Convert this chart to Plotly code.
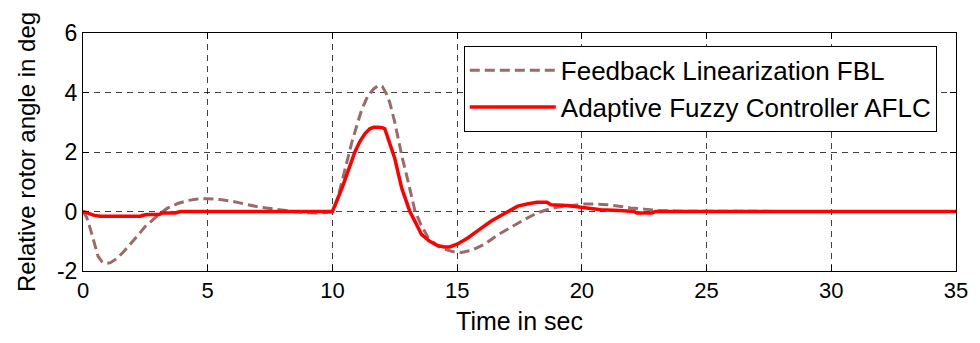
import plotly.graph_objects as go

# ---- data ----
t_fbl = [0, 0.15, 0.3, 0.45, 0.6, 0.75, 0.9, 1.1, 1.35, 1.6, 1.9, 2.2, 2.5, 2.8, 3.1, 3.4,
         3.8, 4.2, 4.6, 5.0, 5.5, 6.0, 6.5, 7.0, 7.5, 8.0, 8.5, 9.0, 9.5, 9.9, 10.0, 10.2,
         10.45, 10.78, 11.0, 11.18, 11.4, 11.65, 11.85, 12.0, 12.15, 12.3, 12.5, 12.64,
         12.8, 12.98, 13.15, 13.3, 13.55, 13.84, 14.15, 14.5, 14.85, 15.17, 15.6, 16.1,
         16.6, 17.0, 17.43, 17.7, 18.2, 18.6, 19.0, 19.5, 20.1, 20.5, 21.0, 21.5, 21.95,
         22.5, 22.9, 23.1, 24, 26, 28, 30, 32, 35]
v_fbl = [0, -0.2, -0.6, -1.1, -1.5, -1.68, -1.75, -1.72, -1.58, -1.38, -1.1, -0.8, -0.5,
         -0.27, -0.06, 0.12, 0.27, 0.37, 0.42, 0.43, 0.4, 0.34, 0.25, 0.16, 0.1, 0.04,
         -0.01, -0.04, -0.05, -0.03, 0, 0.4, 1.23, 2.33, 2.95, 3.44, 3.85, 4.12, 4.24,
         4.2, 3.98, 3.66, 3.0, 2.4, 1.8, 1.2, 0.6, 0.05, -0.45, -0.88, -1.12, -1.27,
         -1.35, -1.38, -1.3, -1.1, -0.8, -0.6, -0.4, -0.27, -0.05, 0.06, 0.14, 0.2, 0.25,
         0.25, 0.23, 0.18, 0.12, 0.08, 0.06, 0.03, 0.01, 0, 0, 0, 0, 0]

t_aflc = [0, 0.2, 0.45, 0.7, 1.5, 2.3, 2.45, 2.6, 3.05, 3.2, 3.7, 3.9, 5, 7, 9, 10.0,
          10.38, 10.9, 11.1, 11.3, 11.5, 11.65, 11.8, 12.0, 12.1, 12.3, 12.5, 12.78, 13.1,
          13.35, 13.57, 13.9, 14.24, 14.5, 14.7, 15.0, 15.44, 15.9, 16.37, 16.9, 17.43,
          17.8, 18.2, 18.6, 18.76, 19.4, 19.96, 20.4, 20.76, 21.5, 22.1, 22.2, 22.8,
          22.95, 25, 30, 35]
v_aflc = [0, -0.05, -0.13, -0.16, -0.16, -0.16, -0.12, -0.1, -0.1, -0.05, -0.05, 0, 0, 0,
          0, 0, 0.78, 2.0, 2.35, 2.61, 2.78, 2.83, 2.83, 2.82, 2.78, 2.3, 1.78, 0.78,
          0.01, -0.4, -0.77, -1.0, -1.15, -1.19, -1.19, -1.1, -0.88, -0.6, -0.32, -0.07,
          0.18, 0.25, 0.31, 0.31, 0.23, 0.2, 0.14, 0.1, 0.06, 0.03, 0.0, -0.05, -0.05,
          0, 0, 0, 0]

x_ticks = [0, 5, 10, 15, 20, 25, 30, 35]
y_ticks = [-2, 0, 2, 4, 6]

FONT = "Liberation Sans, Arial, sans-serif"

fig = go.Figure()
fig.add_trace(go.Scatter(x=t_fbl, y=v_fbl, mode="lines",
                         name="Feedback Linearization FBL",
                         line=dict(color="#9b6a6a", width=3, dash="10px,5px")))
fig.add_trace(go.Scatter(x=t_aflc, y=v_aflc, mode="lines",
                         name="Adaptive Fuzzy Controller AFLC",
                         line=dict(color="#ff0000", width=3.5)))

axis_common = dict(showline=True, linecolor="black", linewidth=1, mirror="ticks",
                   ticks="inside", ticklen=6, tickcolor="black",
                   showgrid=True, gridcolor="rgba(0,0,0,0.75)", gridwidth=1,
                   griddash="6px,5px", zeroline=False)

fig.update_xaxes(range=[0, 35], tickvals=x_ticks, ticktext=[str(v) for v in x_ticks],
                 tickfont=dict(family=FONT, size=22, color="black"),
                 title=dict(text="Time in sec", font=dict(family=FONT, size=25, color="black"),
                            standoff=10),
                 **axis_common)
fig.update_yaxes(range=[-2, 6], tickvals=y_ticks, ticktext=[str(v) for v in y_ticks],
                 tickfont=dict(family=FONT, size=23, color="black"),
                 title=dict(text="Relative rotor angle in deg",
                            font=dict(family=FONT, size=24, color="black"), standoff=14),
                 **axis_common)

fig.update_layout(
    width=980, height=343,
    margin=dict(l=83, r=19, t=33, b=69),
    paper_bgcolor="white", plot_bgcolor="white",
    font=dict(family=FONT, color="black"),
    legend=dict(x=0.978, y=0.946, xanchor="right", yanchor="top",
                bgcolor="white", bordercolor="black", borderwidth=1,
                font=dict(family=FONT, size=26, color="black"),
                itemwidth=86, tracegroupgap=0),
)

fig.write_html("out.html")
